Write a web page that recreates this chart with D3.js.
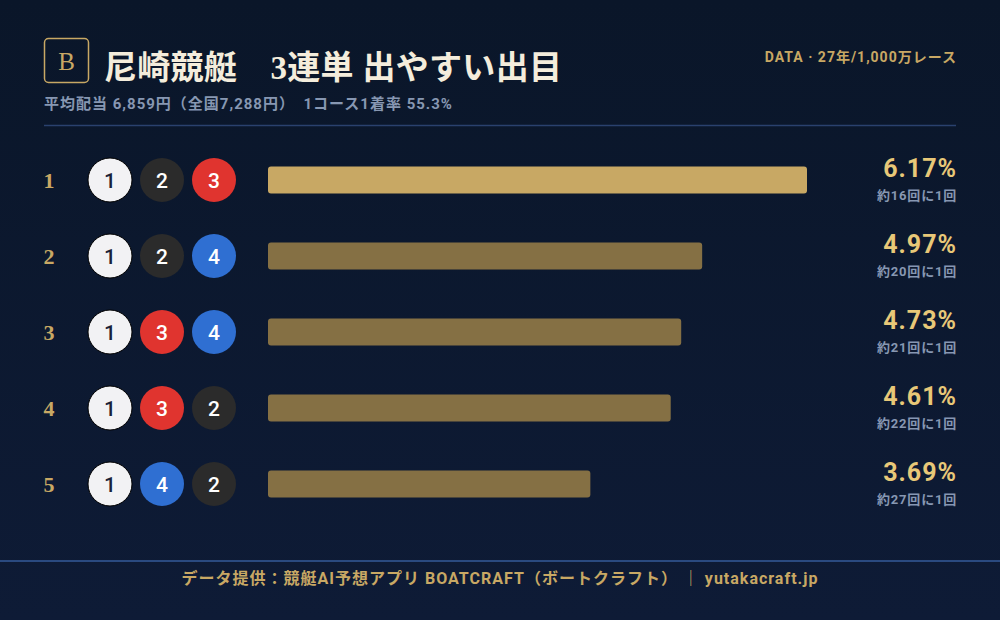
<!DOCTYPE html>
<html><head><meta charset="utf-8">
<script src="https://cdn.jsdelivr.net/npm/d3@7"></script>
<style>
html,body{margin:0;padding:0;background:#0b1729;}
svg{display:block;}
</style></head>
<body>
<script>
const ranks = [1, 2, 3, 4, 5];
const combos = [[1,2,3],[1,2,4],[1,3,4],[1,3,2],[1,4,2]];
const percents = [6.17, 4.97, 4.73, 4.61, 3.69];
const oddsLabels = ["約16回に1回","約20回に1回","約21回に1回","約22回に1回","約27回に1回"];
const boatColors = {1:"#f2f2f4",2:"#2b2b2b",3:"#e0342f",4:"#2f6fd2"};
const boatText = {1:"#1a2238",2:"#ffffff",3:"#ffffff",4:"#ffffff"};

const W=1000,H=620;
const svg=d3.select("body").append("svg").attr("width",W).attr("height",H);
const defs=svg.append("defs");
const g=defs.append("linearGradient").attr("id","bg").attr("x1",0).attr("y1",0).attr("x2",0).attr("y2",1);
g.append("stop").attr("offset","0%").attr("stop-color","#0a1629");
g.append("stop").attr("offset","100%").attr("stop-color","#0e1b36");
svg.append("rect").attr("width",W).attr("height",H).attr("fill","url(#bg)");

const sans="Roboto,'Noto Sans CJK JP','Noto Sans',sans-serif";

// badge
svg.append("rect").attr("x",44.5).attr("y",38.5).attr("width",44).attr("height",44).attr("rx",4)
  .attr("fill","none").attr("stroke","#c8a864").attr("stroke-width",1.5);
svg.append("text").attr("x",66.5).attr("y",70).attr("text-anchor","middle")
  .attr("font-family","'Liberation Serif',serif").attr("font-size",25).attr("fill","#c8a864").text("B");

svg.append("text").attr("x",104).attr("y",79).attr("font-family","'Liberation Serif','Noto Sans CJK JP',serif")
  .attr("font-weight","bold").attr("font-size",33).attr("fill","#f4eddc").attr("xml:space","preserve")
  .attr("letter-spacing",0.3)
  .text("尼崎競艇　3連単 出やすい出目");

svg.append("text").attr("x",44).attr("y",109).attr("font-family",sans).attr("font-weight","bold")
  .attr("font-size",15).attr("letter-spacing",1).attr("fill","#8797b2").attr("xml:space","preserve")
  .text("平均配当 6,859円（全国7,288円）　1コース1着率 55.3%");

svg.append("text").attr("x",957).attr("y",62).attr("text-anchor","end").attr("font-family",sans)
  .attr("font-weight","bold").attr("font-size",14).attr("letter-spacing",1).attr("fill","#c8a864").text("DATA · 27年/1,000万レース");

svg.append("line").attr("x1",44).attr("x2",956).attr("y1",125.5).attr("y2",125.5).attr("stroke","#2a416e").attr("stroke-width",1.5);

const y=d3.scaleBand().domain(ranks).range([142,522]).paddingInner(0);
const x=d3.scaleLinear().domain([0,6.17]).range([268,807]);
const cx=d3.scalePoint().domain([0,1,2]).range([110,214]);

const rows=svg.selectAll("g.row").data(ranks.map((r,i)=>({r,combo:combos[i],p:percents[i],o:oddsLabels[i],i})))
  .enter().append("g").attr("class","row")
  .attr("transform",d=>`translate(0,${y(d.r)+y.bandwidth()/2})`);

rows.append("text").attr("x",49).attr("y",8).attr("text-anchor","middle")
  .attr("font-family","'Liberation Serif',serif").attr("font-weight","bold").attr("font-size",22).attr("fill","#c8a864").text(d=>d.r);

rows.each(function(d){
  const sel=d3.select(this);
  d.combo.forEach((b,j)=>{
    sel.append("circle").attr("cx",cx(j)).attr("cy",0).attr("r",22)
      .attr("fill",boatColors[b]).attr("stroke",b===1?"#000000":"none").attr("stroke-width",1);
    sel.append("text").attr("x",cx(j)).attr("y",7.5).attr("text-anchor","middle")
      .attr("font-family","Roboto,sans-serif").attr("font-weight","500").attr("font-size",21).attr("fill",boatText[b]).text(b);
  });
});

rows.append("rect").attr("x",x(0)).attr("y",-13.5).attr("height",27).attr("rx",3)
  .attr("width",d=>x(d.p)-x(0)).attr("fill",d=>d.i===0?"#c8a864":"#857044");

rows.append("text").attr("x",957).attr("y",-3).attr("text-anchor","end").attr("font-family",sans)
  .attr("font-weight","bold").attr("font-size",25).attr("letter-spacing",1).attr("fill","#e8c878").text(d=>d.p.toFixed(2)+"%");
rows.append("text").attr("x",957).attr("y",20).attr("text-anchor","end").attr("font-family",sans)
  .attr("font-weight","bold").attr("font-size",13).attr("letter-spacing",0.8).attr("fill","#8797b2").text(d=>d.o);

svg.append("line").attr("x1",0).attr("x2",W).attr("y1",561).attr("y2",561).attr("stroke","#2a4a80").attr("stroke-width",2);
svg.append("text").attr("x",500).attr("y",584).attr("text-anchor","middle").attr("font-family",sans)
  .attr("font-weight","bold").attr("font-size",16).attr("letter-spacing",1).attr("fill","#c8a864").attr("xml:space","preserve")
  .text("データ提供：競艇AI予想アプリ BOATCRAFT（ボートクラフト） ｜ yutakacraft.jp");
</script>
</body></html>
